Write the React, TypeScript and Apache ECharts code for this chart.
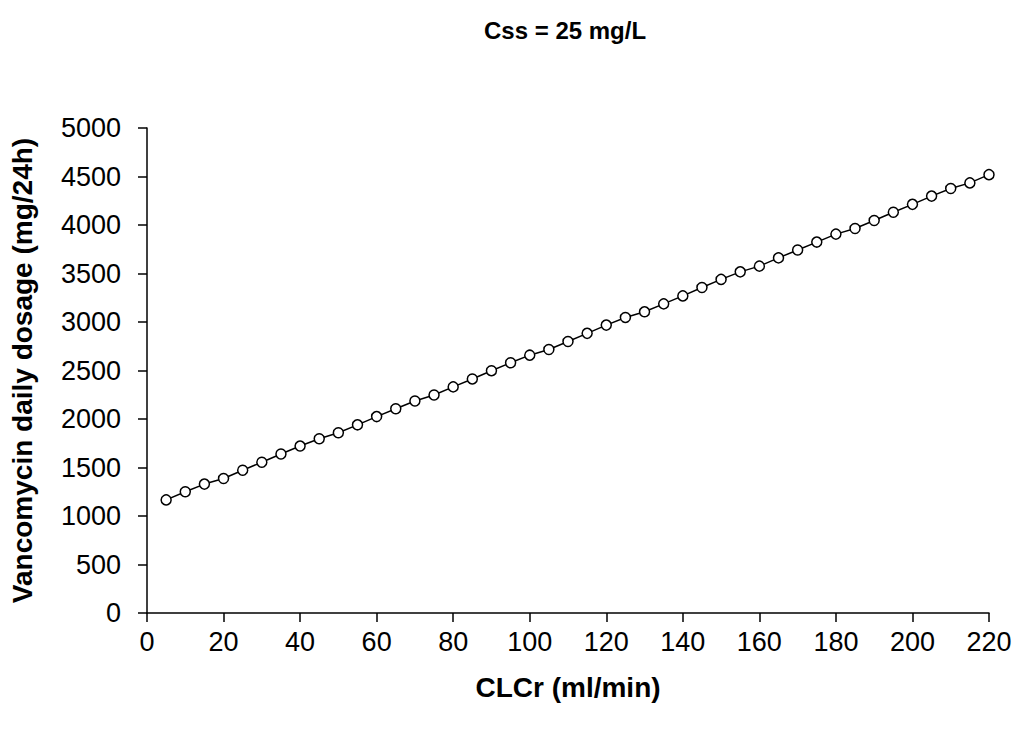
import React, { useEffect, useRef } from "react";
import * as echarts from "echarts";

const titleText = "Css = 25 mg/L";
const xAxisName = "CLCr (ml/min)";
const yAxisName = "Vancomycin daily dosage (mg/24h)";

const clcr = [
  5, 10, 15, 20, 25, 30, 35, 40, 45, 50, 55, 60, 65, 70, 75, 80, 85, 90, 95, 100, 105, 110,
  115, 120, 125, 130, 135, 140, 145, 150, 155, 160, 165, 170, 175, 180, 185, 190, 195, 200,
  205, 210, 215, 220,
];
const dosage = [
  1166, 1250, 1329, 1387, 1472, 1554, 1639, 1721, 1796, 1858, 1940, 2025, 2106, 2186, 2247,
  2331, 2413, 2498, 2580, 2658, 2717, 2799, 2883, 2968, 3047, 3105, 3187, 3269, 3356, 3439,
  3517, 3576, 3661, 3742, 3824, 3906, 3964, 4046, 4131, 4213, 4298, 4376, 4434, 4519,
];

const xMin = 0;
const xMax = 220;
const xInterval = 20;
const yMin = 0;
const yMax = 5000;
const yInterval = 500;

const FONT = "Liberation Sans, Arial, sans-serif";

export default function App() {
  const ref = useRef<HTMLDivElement>(null);

  useEffect(() => {
    if (!ref.current) return;
    const chart = echarts.init(ref.current, null, { renderer: "svg" });
    const axisCommon = {
      axisLine: { show: true, lineStyle: { color: "#000", width: 1.5 } },
      axisTick: { show: true, inside: false, length: 9, lineStyle: { color: "#000", width: 1.5 } },
      splitLine: { show: false },
      nameLocation: "middle" as const,
      nameTextStyle: { fontFamily: FONT, fontSize: 28, fontWeight: "bold" as const, color: "#000" },
    };
    chart.setOption({
      animation: false,
      backgroundColor: "#fff",
      title: {
        text: titleText,
        left: 479,
        top: 13,
        textStyle: { fontFamily: FONT, fontSize: 24, fontWeight: "bold", color: "#000" },
      },
      grid: { left: 146, right: 30, top: 128, bottom: 116, containLabel: false },
      xAxis: {
        type: "value",
        min: xMin,
        max: xMax,
        interval: xInterval,
        name: xAxisName,
        nameGap: 60,
        ...axisCommon,
        axisLabel: { fontFamily: FONT, fontSize: 27, color: "#000", margin: 15 },
      },
      yAxis: {
        type: "value",
        min: yMin,
        max: yMax,
        interval: yInterval,
        name: yAxisName,
        nameGap: 111,
        ...axisCommon,
        axisLabel: {
          fontFamily: FONT,
          fontSize: 27,
          color: "#000",
          margin: 26,
          formatter: (v: number) => String(v),
        },
      },
      series: [
        {
          type: "line",
          data: clcr.map((x, i) => [x, dosage[i]]),
          symbol: "circle",
          symbolSize: 10,
          showSymbol: true,
          lineStyle: { color: "#000", width: 1.5 },
          itemStyle: { color: "#fff", borderColor: "#000", borderWidth: 1.5 },
        },
      ],
    });
    return () => chart.dispose();
  }, []);

  return (
    <div
      ref={ref}
      style={{ position: "absolute", left: 0, top: 0, width: 1019, height: 729, background: "#fff" }}
    />
  );
}
